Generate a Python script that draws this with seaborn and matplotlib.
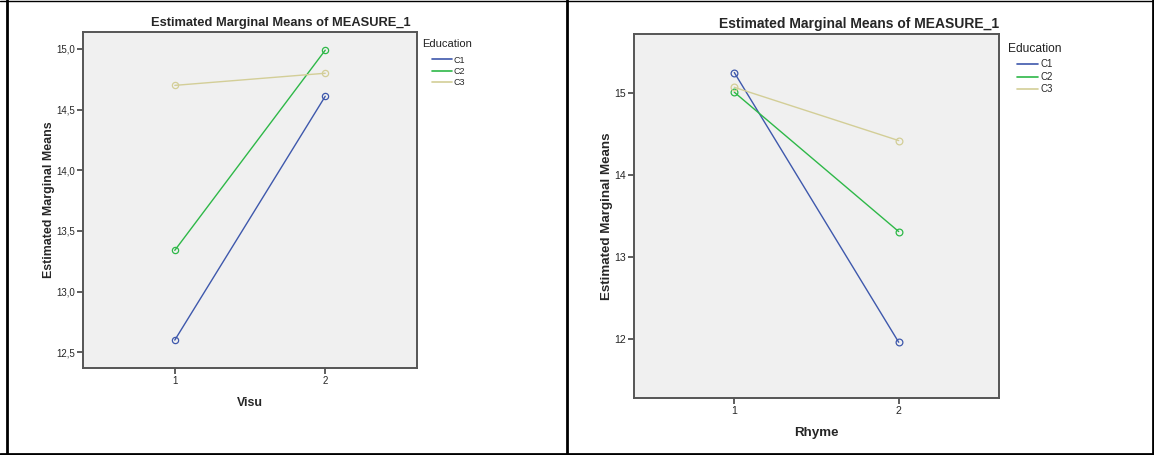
import pandas as pd
import matplotlib.pyplot as plt
import seaborn as sns
from matplotlib.lines import Line2D
from matplotlib.ticker import FuncFormatter

plt.switch_backend('Agg')

# data
levels = [1, 2]
education = ['C1', 'C2', 'C3']
visu_c1 = [12.60, 14.61]
visu_c2 = [13.34, 14.99]
visu_c3 = [14.70, 14.80]
rhyme_c1 = [15.25, 11.96]
rhyme_c2 = [15.01, 13.31]
rhyme_c3 = [15.07, 14.42]
visu_ticks = [12.5, 13.0, 13.5, 14.0, 14.5, 15.0]
rhyme_ticks = [12, 13, 14, 15]

colors = ['#3E58AC', '#2EB848', '#D3CE97']


def long_table(series, name):
    rows = []
    for edu, vals in zip(education, series):
        for lv, v in zip(levels, vals):
            rows.append({name: lv, 'Education': edu, 'mean': v})
    return pd.DataFrame(rows)


sns.set_style('ticks')
plt.rcParams['font.family'] = ['Liberation Sans', 'DejaVu Sans']

fig = plt.figure(figsize=(11.54, 4.55), dpi=100)
W, H = 1154, 455


def px_axes(x0, y0, x1, y1):
    return fig.add_axes([x0 / W, 1 - y1 / H, (x1 - x0) / W, (y1 - y0) / H])


def draw_panel(ax, df, xname, ylim, yticks, fmt, s, title_x, edu_xy, leg_anchor):
    sns.lineplot(data=df, x=xname, y='mean', hue='Education', palette=colors,
                 marker='o', markersize=4.5 * s, linewidth=1.0, mfc='none',
                 legend=False, ax=ax)
    for line in ax.lines:
        line.set_markeredgecolor(line.get_color())
        line.set_markeredgewidth(0.9)
    ax.set_facecolor('#F0F0F0')
    ax.set_xlim(0.39, 2.61)
    ax.set_ylim(*ylim)
    ax.set_xticks(levels)
    ax.set_yticks(yticks)
    ax.yaxis.set_major_formatter(FuncFormatter(lambda v, p: fmt.format(v).replace('.', ',')))
    ax.tick_params(labelsize=7 * s, length=4, width=1.1, color='#333333', pad=1.5)
    for sp in ax.spines.values():
        sp.set_color('#555555')
        sp.set_linewidth(1.4)
    ax.set_xlabel(xname, fontsize=8.9 * s, fontweight='bold', labelpad=8)
    ax.set_ylabel('Estimated Marginal Means', fontsize=8.9 * s, fontweight='bold', labelpad=1.5)
    ax.set_title('Estimated Marginal Means of MEASURE_1', fontsize=9.3 * s,
                 fontweight='bold', pad=4, x=title_x)
    ax.text(edu_xy[0], edu_xy[1], 'Education', transform=ax.transAxes,
            fontsize=8 * s, color='#222222', ha='left', va='center')
    handles = [Line2D([], [], color=c, lw=1.2) for c in colors]
    ax.legend(handles, education, loc='upper left', bbox_to_anchor=leg_anchor,
              frameon=False, fontsize=6.5 * s, handlelength=2.2, handletextpad=0.2,
              labelspacing=0.25, borderaxespad=0, borderpad=0)


visu_df = long_table([visu_c1, visu_c2, visu_c3], 'Visu')
rhyme_df = long_table([rhyme_c1, rhyme_c2, rhyme_c3], 'Rhyme')

ax1 = px_axes(83, 32, 417, 368)
draw_panel(ax1, visu_df, 'Visu', (12.37, 15.14), visu_ticks, '{:.1f}', 1.0,
           0.593, (1.015, 0.965), (1.045, 0.93))

ax2 = px_axes(634, 34, 999, 398)
draw_panel(ax2, rhyme_df, 'Rhyme', (11.28, 15.72), rhyme_ticks, '{:.0f}', 1.08,
           0.616, (1.025, 0.96), (1.049, 0.93))

# table borders around the two cells
def hline(y, x0=0, x1=W, lw=1.5):
    fig.add_artist(Line2D([x0 / W, x1 / W], [1 - y / H, 1 - y / H], color='black', lw=lw))


def vline(x, y0=0, y1=H, lw=1.5):
    fig.add_artist(Line2D([x / W, x / W], [1 - y0 / H, 1 - y1 / H], color='black', lw=lw))


hline(0.5, lw=1.0)
hline(453.5, lw=2.0)
vline(7, lw=2.0)
vline(567, lw=2.0)
vline(1152.5, lw=2.0)

fig.savefig('out.png', dpi=100)
